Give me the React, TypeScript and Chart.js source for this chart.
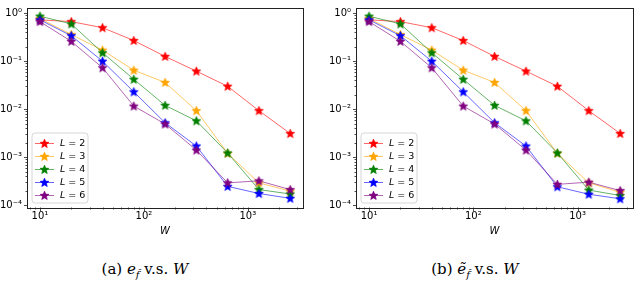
import React, { useEffect, useRef } from "react";
import { Chart, registerables } from "chart.js";

Chart.register(...registerables);

const widths = [10, 20, 40, 80, 160, 320, 640, 1280, 2560];
const seriesLabels = ["2", "3", "4", "5", "6"];
const seriesColors = ["255,0,0", "255,165,0", "0,128,0", "0,0,255", "128,0,128"];

// (a) e_f vs W
const errA_L2 = [0.73, 0.67, 0.5, 0.27, 0.126, 0.062, 0.03, 0.0093, 0.0031];
const errA_L3 = [0.78, 0.36, 0.17, 0.065, 0.036, 0.0093, 0.0012, 0.00029, 0.000195];
const errA_L4 = [0.87, 0.6, 0.15, 0.042, 0.012, 0.0057, 0.00122, 0.00021, 0.00017];
const errA_L5 = [0.73, 0.34, 0.1, 0.023, 0.0052, 0.0017, 0.000245, 0.000174, 0.000138];
const errA_L6 = [0.67, 0.26, 0.073, 0.0116, 0.0049, 0.0014, 0.00029, 0.00032, 0.00021];

// (b) tilde e_f vs W
const errB_L2 = [0.73, 0.67, 0.5, 0.27, 0.126, 0.062, 0.03, 0.0093, 0.0031];
const errB_L3 = [0.78, 0.36, 0.17, 0.065, 0.036, 0.0093, 0.0012, 0.00029, 0.000185];
const errB_L4 = [0.87, 0.6, 0.15, 0.042, 0.012, 0.0057, 0.00122, 0.000205, 0.000158];
const errB_L5 = [0.73, 0.34, 0.1, 0.023, 0.0052, 0.0017, 0.00024, 0.000168, 0.000135];
const errB_L6 = [0.67, 0.26, 0.073, 0.0116, 0.0049, 0.0014, 0.00027, 0.0003, 0.0002];

const xTickValues = [10, 100, 1000];
const xTickLabels = ["10\u00B9", "10\u00B2", "10\u00B3"];
const yTickValues = [1e-4, 1e-3, 1e-2, 1e-1, 1];
const yTickLabels = ["10\u207B\u2074", "10\u207B\u00B3", "10\u207B\u00B2", "10\u207B\u00B9", "10\u2070"];

const X_MIN = 7.5;
const X_MAX = 3400;
const Y_MIN = 9.1e-5;
const Y_MAX = 1.32;

function makeStar(rgb: string): HTMLCanvasElement {
  const size = 11;
  const c = document.createElement("canvas");
  c.width = size;
  c.height = size;
  const ctx = c.getContext("2d")!;
  const cx = size / 2;
  const cy = size / 2 + 0.3;
  const R = 4.7;
  const r = R * 0.45;
  ctx.beginPath();
  for (let k = 0; k < 10; k++) {
    const a = -Math.PI / 2 + (k * Math.PI) / 5;
    const rad = k % 2 === 0 ? R : r;
    const px = cx + rad * Math.cos(a);
    const py = cy + rad * Math.sin(a);
    if (k === 0) ctx.moveTo(px, py);
    else ctx.lineTo(px, py);
  }
  ctx.closePath();
  ctx.fillStyle = `rgb(${rgb})`;
  ctx.fill();
  ctx.strokeStyle = `rgb(${rgb})`;
  ctx.lineWidth = 0.6;
  ctx.stroke();
  return c;
}

const framePlugin = {
  id: "frameAndLegend",
  afterDraw(chart: any) {
    const { ctx, chartArea: ca, scales } = chart;
    const x = scales.x;
    const y = scales.y;
    ctx.save();
    ctx.strokeStyle = "#222";
    ctx.lineWidth = 1;
    ctx.strokeRect(Math.round(ca.left) + 0.5, Math.round(ca.top) + 0.5, Math.round(ca.right - ca.left), Math.round(ca.bottom - ca.top));
    ctx.lineWidth = 0.8;
    const bottom = Math.round(ca.bottom) + 0.5;
    for (let d = 1; d <= 1000; d *= 10) {
      for (let m = 1; m <= 9; m++) {
        const v = m * d;
        if (v < X_MIN || v > X_MAX) continue;
        const px = Math.round(x.getPixelForValue(v)) + 0.5;
        const len = m === 1 ? 3.5 : 2;
        ctx.beginPath();
        ctx.moveTo(px, bottom);
        ctx.lineTo(px, bottom + len);
        ctx.stroke();
      }
    }
    const left = Math.round(ca.left) + 0.5;
    for (let e = -5; e <= 0; e++) {
      const d = Math.pow(10, e);
      for (let m = 1; m <= 9; m++) {
        const v = m * d;
        if (v < Y_MIN || v > Y_MAX) continue;
        const py = Math.round(y.getPixelForValue(v)) + 0.5;
        const len = m === 1 ? 3.5 : 2;
        ctx.beginPath();
        ctx.moveTo(left, py);
        ctx.lineTo(left - len, py);
        ctx.stroke();
      }
    }
    // legend
    const bx = Math.round(ca.left) + 5;
    const by = 133;
    const bw = 56;
    const bh = 70;
    const rr = 3;
    ctx.beginPath();
    ctx.moveTo(bx + rr, by);
    ctx.lineTo(bx + bw - rr, by);
    ctx.quadraticCurveTo(bx + bw, by, bx + bw, by + rr);
    ctx.lineTo(bx + bw, by + bh - rr);
    ctx.quadraticCurveTo(bx + bw, by + bh, bx + bw - rr, by + bh);
    ctx.lineTo(bx + rr, by + bh);
    ctx.quadraticCurveTo(bx, by + bh, bx, by + bh - rr);
    ctx.lineTo(bx, by + rr);
    ctx.quadraticCurveTo(bx, by, bx + rr, by);
    ctx.closePath();
    ctx.fillStyle = "rgba(255,255,255,0.85)";
    ctx.fill();
    ctx.strokeStyle = "#d6d6d6";
    ctx.lineWidth = 1;
    ctx.stroke();
    const datasets = chart.data.datasets;
    datasets.forEach((ds: any, i: number) => {
      const ry = by + 10 + i * 13;
      ctx.strokeStyle = ds.borderColor;
      ctx.lineWidth = 1;
      ctx.beginPath();
      ctx.moveTo(bx + 3, ry + 0.5);
      ctx.lineTo(bx + 22, ry + 0.5);
      ctx.stroke();
      const img = ds.pointStyle as HTMLCanvasElement;
      ctx.drawImage(img, bx + 12.5 - img.width / 2, ry + 0.5 - img.height / 2);
      ctx.fillStyle = "#000";
      ctx.textBaseline = "middle";
      ctx.font = "italic 9.5px 'DejaVu Sans'";
      ctx.fillText("L", bx + 28, ry + 1);
      const lw = ctx.measureText("L").width;
      ctx.font = "9.5px 'DejaVu Sans'";
      ctx.fillText(" = " + seriesLabels[i], bx + 28 + lw, ry + 1);
    });
    ctx.restore();
  },
};

function LogChart({ series, yAxisWidth, rightPad }: { series: number[][]; yAxisWidth: number; rightPad: number }) {
  const ref = useRef<HTMLCanvasElement>(null);
  useEffect(() => {
    const canvas = ref.current!;
    const datasets = series.map((vals, i) => ({
      label: "L = " + seriesLabels[i],
      data: widths.map((w, j) => ({ x: w, y: vals[j] })),
      borderColor: `rgba(${seriesColors[i]},0.6)`,
      backgroundColor: `rgb(${seriesColors[i]})`,
      borderWidth: 1,
      pointStyle: makeStar(seriesColors[i]),
      pointRadius: 4,
      order: 10 - i,
      tension: 0,
    }));
    const chart = new Chart(canvas, {
      type: "line",
      data: { datasets },
      options: {
        animation: false,
        responsive: false,
        events: [],
        layout: { padding: { top: 2, right: rightPad, left: 0, bottom: 0 } },
        plugins: { legend: { display: false }, tooltip: { enabled: false } },
        scales: {
          x: {
            type: "logarithmic",
            min: X_MIN,
            max: X_MAX,
            afterBuildTicks: (s: any) => {
              s.ticks = xTickValues.map((v) => ({ value: v }));
            },
            afterFit: (s: any) => {
              s.height = 33;
            },
            ticks: {
              autoSkip: false,
              maxRotation: 0,
              padding: 0,
              color: "#000",
              font: { family: "DejaVu Sans", size: 10 },
              callback: (v: any) => {
                const k = xTickValues.indexOf(Number(v));
                return k >= 0 ? xTickLabels[k] : "";
              },
            },
            grid: { display: false, drawTicks: true, tickLength: 3.5 },
            border: { display: false },
            title: {
              display: true,
              text: "W",
              color: "#000",
              font: { family: "DejaVu Sans", size: 10, style: "italic" },
              padding: { top: 0, bottom: 3 },
            },
          },
          y: {
            type: "logarithmic",
            min: Y_MIN,
            max: Y_MAX,
            afterBuildTicks: (s: any) => {
              s.ticks = yTickValues.map((v) => ({ value: v }));
            },
            afterFit: (s: any) => {
              s.width = yAxisWidth;
            },
            ticks: {
              autoSkip: false,
              padding: 1.5,
              color: "#000",
              font: { family: "DejaVu Sans", size: 10 },
              callback: (v: any) => {
                const val = Number(v);
                const k = yTickValues.findIndex((t) => Math.abs(t - val) / t < 1e-6);
                return k >= 0 ? yTickLabels[k] : "";
              },
            },
            grid: { display: false, drawTicks: true, tickLength: 3.5 },
            border: { display: false },
          },
        },
      },
      plugins: [framePlugin],
    } as any);
    return () => chart.destroy();
  }, [series, yAxisWidth, rightPad]);
  return <canvas ref={ref} width={320} height={240} style={{ display: "block" }} />;
}

const seriesA = [errA_L2, errA_L3, errA_L4, errA_L5, errA_L6];
const seriesB = [errB_L2, errB_L3, errB_L4, errB_L5, errB_L6];

const captionStyle: React.CSSProperties = {
  position: "absolute",
  top: 260,
  width: 200,
  textAlign: "center",
  fontFamily: "'DejaVu Serif', serif",
  fontSize: 15,
  color: "#000",
  whiteSpace: "nowrap",
};

export default function App() {
  return (
    <div style={{ position: "absolute", left: 0, top: 0, width: 640, height: 304, background: "#fff", overflow: "hidden" }}>
      <div style={{ position: "absolute", left: 0, top: 0 }}>
        <LogChart series={seriesA} yAxisWidth={27} rightPad={17} />
      </div>
      <div style={{ position: "absolute", left: 320, top: 0 }}>
        <LogChart series={seriesB} yAxisWidth={36} rightPad={7} />
      </div>
      <div style={{ ...captionStyle, left: 45 }}>
        (a) <i>e</i>
        <sub style={{ fontSize: 10 }}>
          <i>f&#770;</i>
        </sub>{" "}
        v.s. <i>W</i>
      </div>
      <div style={{ ...captionStyle, left: 375 }}>
        (b) <i>&#7869;</i>
        <sub style={{ fontSize: 10 }}>
          <i>f&#770;</i>
        </sub>{" "}
        v.s. <i>W</i>
      </div>
    </div>
  );
}
